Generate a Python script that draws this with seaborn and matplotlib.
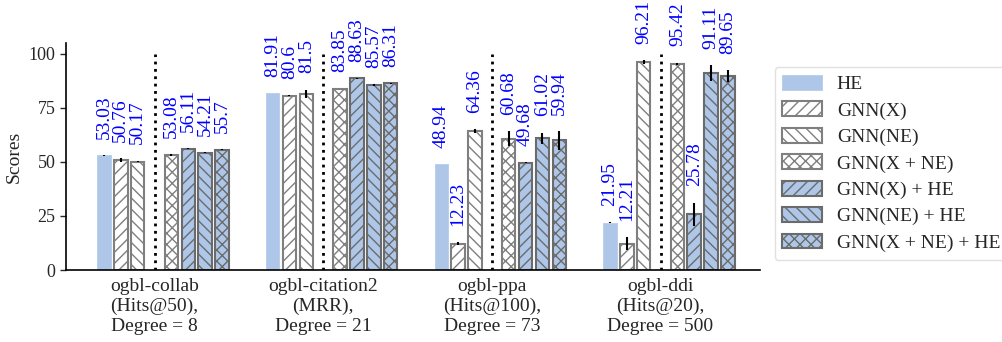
import numpy as np
import pandas as pd
import matplotlib.pyplot as plt
from matplotlib.patches import Patch
import seaborn as sns

# Data
datasets = ['ogbl-collab\n(Hits@50),\nDegree = 8',
            'ogbl-citation2\n(MRR),\nDegree = 21',
            'ogbl-ppa\n(Hits@100),\nDegree = 73',
            'ogbl-ddi\n(Hits@20),\nDegree = 500']
methods = ['HE', 'GNN(X)', 'GNN(NE)', 'GNN(X + NE)',
           'GNN(X) + HE', 'GNN(NE) + HE', 'GNN(X + NE) + HE']

he = [53.03, 81.91, 48.94, 21.95]
gnn_x = [50.76, 80.6, 12.23, 12.21]
gnn_ne = [50.17, 81.5, 64.36, 96.21]
gnn_x_ne = [53.08, 83.85, 60.68, 95.42]
gnn_x_he = [56.11, 88.63, 49.68, 25.78]
gnn_ne_he = [54.21, 85.57, 61.02, 91.11]
gnn_x_ne_he = [55.7, 86.31, 59.94, 89.65]

he_err = [0.3, 0.1, 0.1, 0.1]
gnn_x_err = [1.0, 0.2, 0.5, 3.0]
gnn_ne_err = [0.4, 2.0, 1.0, 1.0]
gnn_x_ne_err = [0.4, 0.1, 3.5, 0.5]
gnn_x_he_err = [0.3, 0.1, 0.4, 5.4]
gnn_ne_he_err = [0.2, 0.3, 2.5, 3.6]
gnn_x_ne_he_err = [0.3, 0.3, 4.2, 2.7]

values = [he, gnn_x, gnn_ne, gnn_x_ne, gnn_x_he, gnn_ne_he, gnn_x_ne_he]
errors = [he_err, gnn_x_err, gnn_ne_err, gnn_x_ne_err,
          gnn_x_he_err, gnn_ne_he_err, gnn_x_ne_he_err]

rows = []
for m, vals, errs in zip(methods, values, errors):
    for d, v, e in zip(datasets, vals, errs):
        rows.append({'dataset': d, 'method': m, 'score': v, 'err': e})
df = pd.DataFrame(rows)

# an empty hue slot keeps room for the dotted separator
spacer = ' '
hue_order = methods[:3] + [spacer] + methods[3:]

blue = '#aec7e8'
fills = {'HE': blue, 'GNN(X)': 'white', 'GNN(NE)': 'white',
         'GNN(X + NE)': 'white', 'GNN(X) + HE': blue,
         'GNN(NE) + HE': blue, 'GNN(X + NE) + HE': blue, spacer: 'white'}
hatches = {'HE': '', 'GNN(X)': '///', 'GNN(NE)': '\\\\\\',
           'GNN(X + NE)': 'xxx', 'GNN(X) + HE': '///',
           'GNN(NE) + HE': '\\\\\\', 'GNN(X + NE) + HE': 'xxx'}
edges = {'HE': blue, 'GNN(X)': '#7f7f7f', 'GNN(NE)': '#7f7f7f',
         'GNN(X + NE)': '#7f7f7f', 'GNN(X) + HE': '#6b6b6b',
         'GNN(NE) + HE': '#6b6b6b', 'GNN(X + NE) + HE': '#6b6b6b'}

sns.set_style('ticks')
plt.rcParams['font.family'] = 'serif'
plt.rcParams['font.serif'] = ['Liberation Serif', 'DejaVu Serif']
plt.rcParams['hatch.linewidth'] = 1.0

fig = plt.figure(figsize=(10.02, 3.42), dpi=100)
ax = fig.add_axes([0.0659, 0.2105, 0.6926, 0.6637])

sns.barplot(data=df, x='dataset', y='score', hue='method', order=datasets,
            hue_order=hue_order, palette=fills, saturation=1, errorbar=None,
            width=0.8, gap=0.2, legend=False, ax=ax)

# work out which method each bar belongs to from its slot in the group
slot = 0.8 / len(hue_order)
lookup = df.set_index(['method', 'dataset'])
for bar in list(ax.patches):
    xc = bar.get_x() + bar.get_width() / 2
    g = int(round(xc))
    k = int(round((xc - g + 0.4) / slot - 0.5))
    m = hue_order[k]
    if m not in methods:
        continue
    v = lookup.loc[(m, datasets[g]), 'score']
    e = lookup.loc[(m, datasets[g]), 'err']
    bar.set_hatch(hatches[m])
    bar.set_edgecolor(edges[m])
    bar.set_linewidth(1.5 if m != 'HE' else 0.5)
    ax.errorbar(xc, v, yerr=e, fmt='none', ecolor='black',
                elinewidth=1.5, capsize=0, zorder=5)
    ax.text(xc, v + e + 7.5, f'{v:g}', rotation=90, ha='center',
            va='bottom', color='#0000ff', fontsize=14)

# dotted separators sit in the spacer slot, under the dataset label
sep_x = np.arange(len(datasets)) - 0.4 + slot * 3.5
ax.vlines(sep_x, 0, 100, colors='black', linestyles=':', linewidth=2)

ax.set_xticks(sep_x)
ax.set_xticklabels(datasets, fontsize=14)
ax.tick_params(axis='x', length=0, pad=6)
ax.tick_params(axis='y', labelsize=13, length=4, width=1)
ax.set_xlabel('')
ax.set_ylabel('Scores', fontsize=14)
ax.set_ylim(0, 105)
ax.set_yticks([0, 25, 50, 75, 100])
ax.set_xlim(-0.575, 3.54)
sns.despine(ax=ax)
for s in ['left', 'bottom']:
    ax.spines[s].set_color('black')
    ax.spines[s].set_linewidth(1.2)

handles = []
for m in methods:
    handles.append(Patch(facecolor=fills[m], edgecolor=edges[m],
                         hatch=hatches[m], linewidth=1.5 if m != 'HE' else 0.5,
                         label=m))
fig.legend(handles=handles, loc='center left', bbox_to_anchor=(0.773, 0.522),
           fontsize=14, frameon=True, handlelength=2.05, handleheight=0.8,
           handletextpad=0.75, labelspacing=0.42, borderpad=0.4,
           borderaxespad=0, edgecolor='#d9d9d9', fancybox=True)

fig.savefig('out.png', dpi=100)
